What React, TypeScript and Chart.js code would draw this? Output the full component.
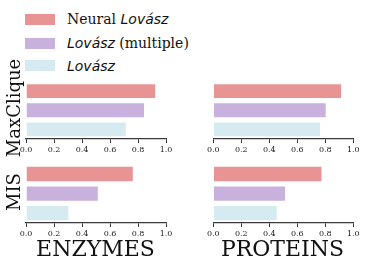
import React, { useEffect, useRef } from "react";
import { Chart, registerables } from "chart.js";

Chart.register(...registerables);

const seriesNames = ["Neural Lovász", "Lovász (multiple)", "Lovász"];
const seriesColors = ["#e99494", "#c9b1dd", "#d6ebf1"];
const graphSets = ["ENZYMES", "PROTEINS"];
const tasks = ["MaxClique", "MIS"];
const enzymesMaxClique = [0.93, 0.85, 0.72];
const proteinsMaxClique = [0.92, 0.81, 0.77];
const enzymesMIS = [0.77, 0.52, 0.31];
const proteinsMIS = [0.78, 0.52, 0.46];
const xTicks = [0, 0.2, 0.4, 0.6, 0.8, 1.0];

const SERIF = "'DejaVu Serif', serif";
const SANS = "'DejaVu Sans', sans-serif";
const AXIS = "#3a3a3a";

type PanelProps = {
  values: number[];
  left: number;
  top: number;
  width: number;
  height: number;
  padL: number;
  padT: number;
};

function Panel({ values, left, top, width, height, padL, padT }: PanelProps) {
  const ref = useRef<HTMLCanvasElement | null>(null);
  useEffect(() => {
    if (!ref.current) return;
    const chart = new Chart(ref.current, {
      type: "bar",
      data: {
        labels: seriesNames,
        datasets: [
          {
            data: values,
            backgroundColor: seriesColors,
            borderColor: "rgba(255,255,255,0.7)",
            borderWidth: 1,
            categoryPercentage: 1,
            barPercentage: 0.83,
          },
        ],
      },
      options: {
        indexAxis: "y",
        responsive: false,
        animation: false,
        devicePixelRatio: 1,
        layout: { padding: { left: padL, right: width - padL - 140, top: padT, bottom: 0 } },
        plugins: { legend: { display: false }, tooltip: { enabled: false } },
        scales: {
          y: { display: false },
          x: {
            min: 0,
            max: 1,
            afterBuildTicks: (s: any) => {
              s.ticks = xTicks.map((v) => ({ value: v }));
            },
            afterFit: (s: any) => {
              s.height = 18;
            },
            grid: { drawOnChartArea: false, drawTicks: true, tickLength: 4, color: AXIS, lineWidth: 1 },
            border: { display: true, color: AXIS, width: 1.3 },
            ticks: {
              padding: 2,
              color: "#1a1a1a",
              font: { family: SERIF, size: 8 },
              maxRotation: 0,
              callback: (v: any) => Number(v).toFixed(1),
            },
          },
        },
      },
    });
    return () => chart.destroy();
  }, []);
  return (
    <canvas
      ref={ref}
      width={width}
      height={height}
      style={{ position: "absolute", left, top, width, height }}
    />
  );
}

export default function App() {
  const legendRows = [
    { y: 13.5, c: seriesColors[0], pre: "Neural ", it: "Lovász", post: "" },
    { y: 37.5, c: seriesColors[1], pre: "", it: "Lovász", post: " (multiple)" },
    { y: 60, c: seriesColors[2], pre: "", it: "Lovász", post: "" },
  ];
  return (
    <div
      style={{
        position: "fixed",
        left: 0,
        top: 0,
        width: 366,
        height: 268,
        background: "#fff",
        overflow: "hidden",
      }}
    >
      <Panel values={enzymesMaxClique} left={8} top={77} width={172} height={80} padL={18} padT={4.5} />
      <Panel values={proteinsMaxClique} left={196} top={77} width={170} height={80} padL={17.3} padT={4.5} />
      <Panel values={enzymesMIS} left={8} top={160} width={172} height={81} padL={18} padT={4.2} />
      <Panel values={proteinsMIS} left={196} top={160} width={170} height={81} padL={17.3} padT={4.2} />

      {[
        { t: tasks[0], cy: 108 },
        { t: tasks[1], cy: 192 },
      ].map((r) => (
        <div
          key={r.t}
          style={{
            position: "absolute",
            left: 13.5,
            top: r.cy,
            transform: "translate(-50%, -50%) rotate(-90deg)",
            fontFamily: SERIF,
            fontSize: 18,
            lineHeight: "18px",
            whiteSpace: "nowrap",
            color: "#111",
          }}
        >
          {r.t}
        </div>
      ))}

      {[
        { t: graphSets[0], cx: 95.5 },
        { t: graphSets[1], cx: 282.5 },
      ].map((r) => (
        <div
          key={r.t}
          style={{
            position: "absolute",
            left: r.cx,
            top: 249,
            transform: "translate(-50%, -50%)",
            fontFamily: SERIF,
            fontSize: 22,
            lineHeight: "22px",
            whiteSpace: "nowrap",
            color: "#111",
          }}
        >
          {r.t}
        </div>
      ))}

      {legendRows.map((r, i) => (
        <React.Fragment key={i}>
          <div
            style={{
              position: "absolute",
              left: 25,
              top: r.y,
              width: 30,
              height: 11,
              background: r.c,
            }}
          />
          <div
            style={{
              position: "absolute",
              left: 67,
              top: r.y + 5.5,
              transform: "translateY(-50%)",
              fontFamily: SERIF,
              fontSize: 14,
              lineHeight: "16px",
              whiteSpace: "nowrap",
              color: "#111",
            }}
          >
            {r.pre}
            <span style={{ fontFamily: SANS, fontStyle: "italic" }}>{r.it}</span>
            {r.post}
          </div>
        </React.Fragment>
      ))}
    </div>
  );
}
